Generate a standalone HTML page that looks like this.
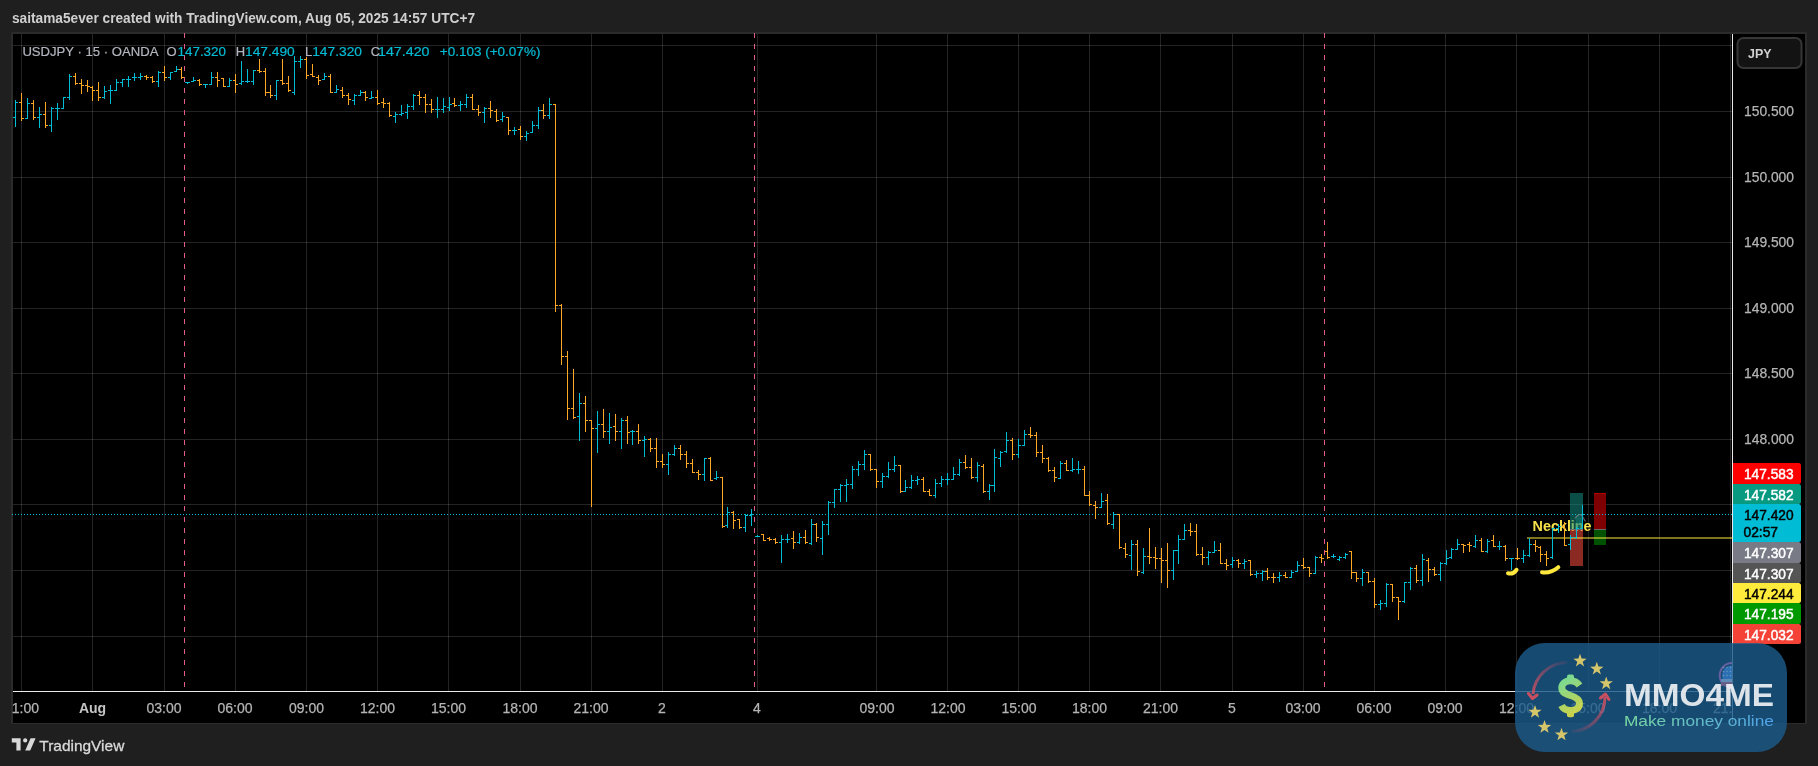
<!DOCTYPE html>
<html><head><meta charset="utf-8"><style>
html,body{margin:0;padding:0;background:#1f1f1f;width:1818px;height:766px;overflow:hidden}
svg{position:absolute;left:0;top:0;will-change:transform}
text{font-family:"Liberation Sans",sans-serif}
.ax{font-size:14px;fill:#b4b4b4;stroke:#b4b4b4;stroke-width:0.25px}
.axb{font-size:14px;fill:#c4c4c4;font-weight:bold}
.hdr{font-size:14px;fill:#d0d0d0;font-weight:bold}
.lab{font-size:14px;stroke-width:0.45px}
.lg{font-size:13px;stroke-width:0.2px}
.neck{font-size:14.5px;fill:#f7e24b;font-weight:bold}
.tvl{font-size:15px;fill:#d9d9d9;stroke:#d9d9d9;stroke-width:0.3px}
.dol{font-size:46px;font-weight:bold;fill:url(#gd)}
.mmo{font-size:31px;font-weight:bold;fill:#fff}
.mmt{font-size:15.5px;fill:url(#gt)}
.jpy{font-size:13.5px;fill:#d1d1d1;font-weight:bold}
</style></head><body>
<svg width="1818" height="766" viewBox="0 0 1818 766">
<text x="12" y="23" class="hdr" textLength="463" lengthAdjust="spacingAndGlyphs">saitama5ever created with TradingView.com, Aug 05, 2025 14:57 UTC+7</text>
<rect x="11" y="32" width="1796" height="692" fill="#2b2b2b"/>
<rect x="13" y="34" width="1792" height="689" fill="#000"/>
<rect x="13" y="45" width="1719" height="1" fill="rgba(255,255,255,0.14)"/>
<rect x="13" y="111" width="1719" height="1" fill="rgba(255,255,255,0.14)"/>
<rect x="13" y="177" width="1719" height="1" fill="rgba(255,255,255,0.14)"/>
<rect x="13" y="242" width="1719" height="1" fill="rgba(255,255,255,0.14)"/>
<rect x="13" y="308" width="1719" height="1" fill="rgba(255,255,255,0.14)"/>
<rect x="13" y="373" width="1719" height="1" fill="rgba(255,255,255,0.14)"/>
<rect x="13" y="439" width="1719" height="1" fill="rgba(255,255,255,0.14)"/>
<rect x="13" y="504" width="1719" height="1" fill="rgba(255,255,255,0.14)"/>
<rect x="13" y="570" width="1719" height="1" fill="rgba(255,255,255,0.14)"/>
<rect x="13" y="636" width="1719" height="1" fill="rgba(255,255,255,0.14)"/>
<rect x="21" y="34" width="1" height="657" fill="rgba(255,255,255,0.14)"/>
<rect x="92" y="34" width="1" height="657" fill="rgba(255,255,255,0.14)"/>
<rect x="164" y="34" width="1" height="657" fill="rgba(255,255,255,0.14)"/>
<rect x="235" y="34" width="1" height="657" fill="rgba(255,255,255,0.14)"/>
<rect x="306" y="34" width="1" height="657" fill="rgba(255,255,255,0.14)"/>
<rect x="377" y="34" width="1" height="657" fill="rgba(255,255,255,0.14)"/>
<rect x="448" y="34" width="1" height="657" fill="rgba(255,255,255,0.14)"/>
<rect x="520" y="34" width="1" height="657" fill="rgba(255,255,255,0.14)"/>
<rect x="591" y="34" width="1" height="657" fill="rgba(255,255,255,0.14)"/>
<rect x="662" y="34" width="1" height="657" fill="rgba(255,255,255,0.14)"/>
<rect x="757" y="34" width="1" height="657" fill="rgba(255,255,255,0.14)"/>
<rect x="876" y="34" width="1" height="657" fill="rgba(255,255,255,0.14)"/>
<rect x="947" y="34" width="1" height="657" fill="rgba(255,255,255,0.14)"/>
<rect x="1018" y="34" width="1" height="657" fill="rgba(255,255,255,0.14)"/>
<rect x="1089" y="34" width="1" height="657" fill="rgba(255,255,255,0.14)"/>
<rect x="1160" y="34" width="1" height="657" fill="rgba(255,255,255,0.14)"/>
<rect x="1232" y="34" width="1" height="657" fill="rgba(255,255,255,0.14)"/>
<rect x="1303" y="34" width="1" height="657" fill="rgba(255,255,255,0.14)"/>
<rect x="1374" y="34" width="1" height="657" fill="rgba(255,255,255,0.14)"/>
<rect x="1445" y="34" width="1" height="657" fill="rgba(255,255,255,0.14)"/>
<rect x="1516" y="34" width="1" height="657" fill="rgba(255,255,255,0.14)"/>
<rect x="1588" y="34" width="1" height="657" fill="rgba(255,255,255,0.14)"/>
<rect x="1659" y="34" width="1" height="657" fill="rgba(255,255,255,0.14)"/>
<rect x="1730" y="34" width="1" height="657" fill="rgba(255,255,255,0.14)"/>
<line x1="184.5" y1="33" x2="184.5" y2="691" stroke="#e65a8c" stroke-width="1" stroke-dasharray="5 6"/>
<line x1="754.5" y1="33" x2="754.5" y2="691" stroke="#e65a8c" stroke-width="1" stroke-dasharray="5 6"/>
<line x1="1324.5" y1="33" x2="1324.5" y2="691" stroke="#e65a8c" stroke-width="1" stroke-dasharray="5 6"/>
<text x="1532.6" y="531" class="neck" textLength="59" lengthAdjust="spacingAndGlyphs">Neckline</text>
<rect x="1570" y="493" width="13" height="36.5" fill="rgb(21,145,134)" fill-opacity="0.53"/>
<rect x="1576" y="516.5" width="7" height="13" fill="rgb(21,145,134)" fill-opacity="0.35"/>
<rect x="1570" y="529.5" width="13" height="36.5" fill="rgb(255,76,64)" fill-opacity="0.545"/>
<rect x="1570" y="529" width="13" height="1" fill="#6a6a6a"/>
<rect x="1594" y="493" width="12" height="36.5" fill="#7f0000"/>
<rect x="1594" y="493" width="12" height="1" fill="#b00000"/>
<rect x="1594" y="529.5" width="12" height="15.5" fill="#005200"/>
<rect x="1594" y="529" width="12" height="1" fill="#6a6a6a"/>
<rect x="1527" y="537" width="205" height="2" fill="rgb(255,235,59)" fill-opacity="0.5"/>
<line x1="12" y1="514.5" x2="1732" y2="514.5" stroke="#00bcd4" stroke-width="1" stroke-dasharray="1 2"/>
<path d="M1508 573.3 Q1513.5 574.5 1516.5 569.8" stroke="#ffe83d" stroke-width="4" fill="none" stroke-linecap="round"/>
<path d="M1542 572.3 Q1551 573.5 1558.3 567.2" stroke="#ffe83d" stroke-width="4" fill="none" stroke-linecap="round"/>
<path d="M1575 518.5 Q1578.5 513.5 1581.5 515 L1585.5 521.5" stroke="#8a8a8a" stroke-opacity="0.7" stroke-width="1.2" fill="none"/>
<path d="M15.5 100V127M13 117.5H15M16 102.5H18M27.5 98V119M25 118.5H27M28 103.5H30M39.5 107V128M37 117.5H39M40 114.5H42M51.5 107V132M49 125.5H51M52 108.5H54M57.5 103V120M55 108.5H57M58 108.5H60M63.5 97V109M61 108.5H63M64 97.5H66M69.5 74V100M67 97.5H69M70 76.5H72M104.5 86V99M102 97.5H104M105 91.5H107M110.5 85V104M108 90.5H110M111 90.5H113M116.5 79V91M114 90.5H116M117 82.5H119M122.5 79V87M120 82.5H122M123 79.5H125M128.5 76V87M126 79.5H128M129 79.5H131M134.5 73V81M132 77.5H134M135 77.5H137M140.5 73V80M138 77.5H140M141 76.5H143M158.5 71V87M156 81.5H158M159 72.5H161M170.5 72V80M168 77.5H170M171 72.5H173M176.5 66V72M174 71.5H176M177 69.5H179M187.5 82V84M185 82.5H187M188 82.5H190M193.5 77V82M191 81.5H193M194 80.5H196M205.5 84V88M203 84.5H205M206 84.5H208M211.5 72V85M209 84.5H211M212 77.5H214M229.5 78V87M227 86.5H229M230 80.5H232M241.5 61V85M239 83.5H241M242 81.5H244M247.5 69V83M245 81.5H247M248 81.5H250M253.5 70V85M251 81.5H253M254 70.5H256M276.5 80V100M274 95.5H276M277 80.5H279M294.5 56V95M292 92.5H294M295 61.5H297M300.5 56V68M298 61.5H300M301 59.5H303M324.5 73V80M322 79.5H324M325 76.5H327M336.5 85V93M334 92.5H336M337 89.5H339M354.5 94V105M352 100.5H354M355 95.5H357M360.5 90V96M358 95.5H360M361 92.5H363M371.5 91V99M369 98.5H371M372 97.5H374M395.5 112V123M393 116.5H395M396 114.5H398M401.5 105V116M399 114.5H401M402 113.5H404M407.5 104V119M405 112.5H407M408 106.5H410M413.5 94V110M411 106.5H413M414 95.5H416M437.5 97V118M435 109.5H437M438 109.5H440M443.5 98V113M441 109.5H443M444 106.5H446M449.5 97V111M447 107.5H449M450 104.5H452M460.5 101V111M458 105.5H460M461 104.5H463M466.5 94V108M464 104.5H466M467 97.5H469M484.5 107V123M482 112.5H484M485 108.5H487M502.5 112V122M500 119.5H502M503 116.5H505M514.5 127V135M512 130.5H514M515 130.5H517M526.5 131V141M524 136.5H526M527 133.5H529M532.5 121V133M530 132.5H532M533 125.5H535M538.5 107V129M536 125.5H538M539 110.5H541M549.5 98V119M547 115.5H549M550 104.5H552M579.5 393V441M577 416.5H579M580 403.5H582M597.5 411V453M595 428.5H597M598 424.5H600M609.5 413V444M607 431.5H609M610 427.5H612M621.5 418V449M619 431.5H621M622 420.5H624M632.5 430V445M630 431.5H632M633 431.5H635M644.5 436V457M642 440.5H644M645 439.5H647M668.5 452V475M666 464.5H668M669 454.5H671M674.5 445V456M672 454.5H674M675 448.5H677M704.5 458V481M702 474.5H704M705 458.5H707M716.5 471V480M714 478.5H716M717 477.5H719M727.5 507V528M725 525.5H727M728 512.5H730M745.5 514V532M743 527.5H745M746 515.5H748M751.5 509V526M749 515.5H751M752 514.5H754M757.5 535V537M755 536.5H757M758 536.5H760M781.5 535V563M779 542.5H781M782 539.5H784M787.5 534V543M785 539.5H787M788 539.5H790M799.5 533V544M797 542.5H799M800 537.5H802M811.5 519V545M809 543.5H811M812 524.5H814M822.5 521V555M820 538.5H822M823 524.5H825M828.5 501V535M826 524.5H828M829 502.5H831M834.5 489V508M832 502.5H834M835 489.5H837M840.5 484V502M838 489.5H840M841 485.5H843M846.5 479V502M844 485.5H846M847 484.5H849M852.5 466V489M850 484.5H852M853 469.5H855M858.5 461V476M856 469.5H858M859 464.5H861M864.5 450V470M862 464.5H864M865 454.5H867M882.5 473V488M880 481.5H882M883 476.5H885M888.5 462V478M886 476.5H888M889 469.5H891M894.5 456V472M892 469.5H894M895 465.5H897M905.5 480V492M903 491.5H905M906 487.5H908M911.5 475V489M909 487.5H911M912 480.5H914M917.5 476V485M915 480.5H917M918 479.5H920M935.5 479V498M933 495.5H935M936 483.5H938M941.5 476V487M939 483.5H941M942 479.5H944M947.5 473V485M945 479.5H947M948 479.5H950M953.5 467V480M951 479.5H953M954 474.5H956M959.5 459V476M957 474.5H959M960 462.5H962M977.5 462V482M975 477.5H977M978 465.5H980M989.5 484V500M987 491.5H989M990 485.5H992M994.5 449V492M992 485.5H994M995 457.5H997M1000.5 451V467M998 458.5H1000M1001 452.5H1003M1006.5 432V453M1004 451.5H1006M1007 440.5H1009M1018.5 439V458M1016 454.5H1018M1019 445.5H1021M1024.5 430V446M1022 445.5H1024M1025 434.5H1027M1060.5 461V479M1058 478.5H1060M1061 463.5H1063M1072.5 458V472M1070 470.5H1072M1073 469.5H1075M1078.5 461V474M1076 469.5H1078M1079 469.5H1081M1101.5 493V508M1099 507.5H1101M1102 501.5H1104M1113.5 512V529M1111 524.5H1113M1114 514.5H1116M1131.5 540V570M1129 555.5H1131M1132 544.5H1134M1143.5 548V574M1141 572.5H1143M1144 556.5H1146M1173.5 550V580M1171 570.5H1173M1174 550.5H1176M1178.5 535V564M1176 550.5H1178M1179 539.5H1181M1184.5 524V540M1182 539.5H1184M1185 530.5H1187M1208.5 551V565M1206 557.5H1208M1209 552.5H1211M1214.5 541V553M1212 552.5H1214M1215 550.5H1217M1232.5 557V568M1230 564.5H1232M1233 560.5H1235M1244.5 559V569M1242 563.5H1244M1245 561.5H1247M1256.5 571V578M1254 574.5H1256M1257 573.5H1259M1262.5 570V581M1260 573.5H1262M1263 571.5H1265M1279.5 572V582M1277 577.5H1279M1280 575.5H1282M1291.5 570V578M1289 577.5H1291M1292 572.5H1294M1297.5 561V572M1295 571.5H1297M1298 565.5H1300M1315.5 556V574M1313 573.5H1315M1316 557.5H1318M1333.5 554V558M1331 556.5H1333M1334 556.5H1336M1339.5 556V561M1337 559.5H1339M1340 557.5H1342M1345.5 553V559M1343 557.5H1345M1346 554.5H1348M1362.5 569V586M1360 578.5H1362M1363 572.5H1365M1380.5 600V610M1378 604.5H1380M1381 603.5H1383M1386.5 583V607M1384 603.5H1386M1387 584.5H1389M1404.5 582V603M1402 601.5H1404M1405 582.5H1407M1410.5 567V590M1408 582.5H1410M1411 568.5H1413M1422.5 554V586M1420 580.5H1422M1423 559.5H1425M1440.5 562V581M1438 574.5H1440M1441 563.5H1443M1446.5 550V565M1444 563.5H1446M1447 558.5H1449M1451.5 548V559M1449 557.5H1451M1452 549.5H1454M1457.5 539V550M1455 549.5H1457M1458 544.5H1460M1475.5 535V548M1473 546.5H1475M1476 540.5H1478M1487.5 539V553M1485 551.5H1487M1488 541.5H1490M1499.5 541V550M1497 546.5H1499M1500 546.5H1502M1511.5 558V570M1509 558.5H1511M1512 558.5H1514M1523.5 550V563M1521 558.5H1523M1524 555.5H1526M1529.5 538V557M1527 555.5H1529M1530 544.5H1532M1552.5 528V559M1550 557.5H1552M1553 528.5H1555M1558.5 524V533M1556 528.5H1558M1559 526.5H1561M1570.5 535V550M1568 544.5H1570M1571 537.5H1573M1576.5 527V539M1574 537.5H1576M1577 528.5H1579M1582.5 505V529M1580 528.5H1582M1583 514.5H1585" stroke="#00bcd4" stroke-width="1" fill="none" shape-rendering="crispEdges"/>
<path d="M21.5 93V121M19 102.5H21M22 118.5H24M33.5 100V120M31 103.5H33M34 117.5H36M45.5 102V128M43 114.5H45M46 125.5H48M75.5 73V85M73 76.5H75M76 83.5H78M81.5 79V94M79 83.5H81M82 85.5H84M87.5 80V92M85 85.5H87M88 86.5H90M92.5 86V101M90 87.5H92M93 90.5H95M98.5 82V101M96 90.5H98M99 97.5H101M146.5 75V80M144 76.5H146M147 77.5H149M152.5 76V83M150 77.5H152M153 81.5H155M164.5 66V81M162 72.5H164M165 77.5H167M181.5 67V79M179 69.5H181M182 77.5H184M199.5 79V86M197 80.5H199M200 84.5H202M217.5 72V87M215 77.5H217M218 80.5H220M223.5 78V87M221 78.5H223M224 86.5H226M235.5 74V93M233 80.5H235M236 84.5H238M259.5 59V73M257 70.5H259M260 71.5H262M265.5 68V96M263 71.5H265M266 92.5H268M270.5 85V98M268 92.5H270M271 95.5H273M282.5 59V85M280 80.5H282M283 83.5H285M288.5 76V92M286 83.5H288M289 90.5H291M306.5 57V79M304 59.5H306M307 75.5H309M312.5 64V77M310 74.5H312M313 76.5H315M318.5 75V85M316 77.5H318M319 80.5H321M330.5 74V93M328 76.5H330M331 92.5H333M342.5 87V98M340 90.5H342M343 95.5H345M348.5 93V105M346 95.5H348M349 99.5H351M365.5 91V101M363 92.5H365M366 97.5H368M377.5 90V105M375 97.5H377M378 103.5H380M383.5 98V108M381 102.5H383M384 103.5H386M389.5 102V117M387 103.5H389M390 115.5H392M419.5 91V105M417 95.5H419M420 97.5H422M425.5 94V113M423 97.5H425M426 104.5H428M431.5 99V113M429 104.5H431M432 109.5H434M454.5 98V107M452 103.5H454M455 105.5H457M472.5 94V110M470 97.5H472M473 109.5H475M478.5 105V116M476 109.5H478M479 112.5H481M490.5 101V118M488 108.5H490M491 110.5H493M496.5 109V122M494 111.5H496M497 120.5H499M508.5 117V135M506 117.5H508M509 130.5H511M520.5 126V140M518 129.5H520M521 136.5H523M543.5 104V119M541 110.5H543M544 115.5H546M555.5 104V312M553 104.5H555M556 305.5H558M561.5 304V365M559 305.5H561M562 356.5H564M567.5 351V420M565 356.5H567M568 408.5H570M573.5 369V419M571 408.5H573M574 417.5H576M585.5 396V432M583 403.5H585M586 420.5H588M591.5 420V507M589 420.5H591M592 428.5H594M603.5 409V438M601 424.5H603M604 431.5H606M615.5 414V441M613 426.5H615M616 431.5H618M627.5 416V444M625 420.5H627M628 432.5H630M638.5 424V444M636 431.5H638M639 440.5H641M650.5 438V452M648 439.5H650M651 448.5H653M656.5 438V468M654 448.5H656M657 461.5H659M662.5 454V468M660 461.5H662M663 464.5H665M680.5 445V460M678 448.5H680M681 454.5H683M686.5 451V468M684 454.5H686M687 463.5H689M692.5 459V473M690 463.5H692M693 472.5H695M698.5 470V480M696 472.5H698M699 474.5H701M710.5 457V481M708 458.5H710M711 480.5H713M722.5 477V528M720 477.5H722M723 526.5H725M733.5 511V529M731 512.5H733M734 520.5H736M739.5 519V529M737 519.5H739M740 527.5H742M763.5 534V541M761 534.5H763M764 540.5H766M769.5 537V541M767 538.5H769M770 539.5H772M775.5 538V544M773 539.5H775M776 542.5H778M793.5 531V549M791 538.5H793M794 542.5H796M805.5 530V544M803 537.5H805M806 542.5H808M816.5 523V542M814 524.5H816M817 537.5H819M870.5 454V471M868 454.5H870M871 469.5H873M876.5 469V488M874 469.5H876M877 481.5H879M900.5 465V493M898 465.5H900M901 491.5H903M923.5 477V492M921 479.5H923M924 491.5H926M929.5 489V496M927 491.5H929M930 495.5H932M965.5 455V469M963 462.5H965M966 467.5H968M971.5 458V479M969 467.5H971M972 477.5H974M983.5 464V493M981 466.5H983M984 491.5H986M1012.5 438V460M1010 440.5H1012M1013 454.5H1015M1030.5 427V438M1028 434.5H1030M1031 435.5H1033M1036.5 432V457M1034 435.5H1036M1037 452.5H1039M1042.5 445V463M1040 452.5H1042M1043 458.5H1045M1048.5 457V472M1046 458.5H1048M1049 470.5H1051M1054.5 467V482M1052 470.5H1054M1055 477.5H1057M1066.5 460V471M1064 463.5H1066M1067 470.5H1069M1084.5 466V496M1082 469.5H1084M1085 495.5H1087M1089.5 491V506M1087 495.5H1089M1090 504.5H1092M1095.5 501V519M1093 505.5H1095M1096 507.5H1098M1107.5 494V525M1105 500.5H1107M1108 523.5H1110M1119.5 514V549M1117 514.5H1119M1120 547.5H1122M1125.5 543V558M1123 548.5H1125M1126 554.5H1128M1137.5 540V576M1135 544.5H1137M1138 571.5H1140M1149.5 528V564M1147 556.5H1149M1150 557.5H1152M1155.5 547V569M1153 557.5H1155M1156 558.5H1158M1161.5 548V583M1159 558.5H1161M1162 560.5H1164M1167.5 543V588M1165 560.5H1167M1168 570.5H1170M1190.5 523V536M1188 530.5H1190M1191 531.5H1193M1196.5 524V556M1194 531.5H1196M1197 554.5H1199M1202.5 547V565M1200 554.5H1202M1203 557.5H1205M1220.5 543V564M1218 550.5H1220M1221 563.5H1223M1226.5 559V570M1224 563.5H1226M1227 565.5H1229M1238.5 559V568M1236 560.5H1238M1239 563.5H1241M1250.5 560V576M1248 560.5H1250M1251 574.5H1253M1267.5 568V580M1265 571.5H1267M1268 577.5H1270M1273.5 573V583M1271 577.5H1273M1274 577.5H1276M1285.5 572V578M1283 575.5H1285M1286 577.5H1288M1303.5 558V569M1301 565.5H1303M1304 567.5H1306M1309.5 567V577M1307 567.5H1309M1310 573.5H1312M1321.5 554V563M1319 557.5H1321M1322 558.5H1324M1327.5 542V559M1325 551.5H1327M1328 557.5H1330M1351.5 551V579M1349 551.5H1351M1352 572.5H1354M1356.5 572V582M1354 572.5H1356M1357 578.5H1359M1368.5 572V583M1366 572.5H1368M1369 581.5H1371M1374.5 578V608M1372 581.5H1374M1375 604.5H1377M1392.5 584V602M1390 584.5H1392M1393 597.5H1395M1398.5 597V620M1396 597.5H1398M1399 601.5H1401M1416.5 565V583M1414 568.5H1416M1417 580.5H1419M1428.5 558V582M1426 560.5H1428M1429 569.5H1431M1434.5 567V576M1432 569.5H1434M1435 574.5H1437M1463.5 544V553M1461 544.5H1463M1464 545.5H1466M1469.5 542V552M1467 544.5H1469M1470 545.5H1472M1481.5 538V552M1479 540.5H1481M1482 551.5H1484M1493.5 535V547M1491 540.5H1493M1494 546.5H1496M1505.5 545V561M1503 546.5H1505M1506 558.5H1508M1517.5 548V560M1515 558.5H1517M1518 558.5H1520M1535.5 540V552M1533 544.5H1535M1536 546.5H1538M1540.5 546V562M1538 547.5H1540M1541 554.5H1543M1546.5 551V566M1544 554.5H1546M1547 558.5H1549M1564.5 522V546M1562 526.5H1564M1565 545.5H1567" stroke="#ffa726" stroke-width="1" fill="none" shape-rendering="crispEdges"/>
<rect x="1732" y="34" width="1" height="689" fill="#eaeaea"/>
<rect x="13" y="691" width="1720" height="1" fill="#eaeaea"/>
<text x="1744" y="116" textLength="50" lengthAdjust="spacingAndGlyphs" class="ax">150.500</text>
<text x="1744" y="182" textLength="50" lengthAdjust="spacingAndGlyphs" class="ax">150.000</text>
<text x="1744" y="247" textLength="50" lengthAdjust="spacingAndGlyphs" class="ax">149.500</text>
<text x="1744" y="313" textLength="50" lengthAdjust="spacingAndGlyphs" class="ax">149.000</text>
<text x="1744" y="378" textLength="50" lengthAdjust="spacingAndGlyphs" class="ax">148.500</text>
<text x="1744" y="444" textLength="50" lengthAdjust="spacingAndGlyphs" class="ax">148.000</text>
<clipPath id="tclip"><rect x="12" y="692" width="1720" height="31"/></clipPath><g clip-path="url(#tclip)">
<text x="21.5" y="713" text-anchor="middle" class="ax">01:00</text>
<text x="92.5" y="713" text-anchor="middle" class="axb">Aug</text>
<text x="164" y="713" text-anchor="middle" class="ax">03:00</text>
<text x="235" y="713" text-anchor="middle" class="ax">06:00</text>
<text x="306.5" y="713" text-anchor="middle" class="ax">09:00</text>
<text x="377.5" y="713" text-anchor="middle" class="ax">12:00</text>
<text x="448.5" y="713" text-anchor="middle" class="ax">15:00</text>
<text x="520" y="713" text-anchor="middle" class="ax">18:00</text>
<text x="591" y="713" text-anchor="middle" class="ax">21:00</text>
<text x="662" y="713" text-anchor="middle" class="ax">2</text>
<text x="757" y="713" text-anchor="middle" class="ax">4</text>
<text x="877" y="713" text-anchor="middle" class="ax">09:00</text>
<text x="948" y="713" text-anchor="middle" class="ax">12:00</text>
<text x="1019" y="713" text-anchor="middle" class="ax">15:00</text>
<text x="1089.5" y="713" text-anchor="middle" class="ax">18:00</text>
<text x="1160.5" y="713" text-anchor="middle" class="ax">21:00</text>
<text x="1232" y="713" text-anchor="middle" class="ax">5</text>
<text x="1303" y="713" text-anchor="middle" class="ax">03:00</text>
<text x="1374" y="713" text-anchor="middle" class="ax">06:00</text>
<text x="1445" y="713" text-anchor="middle" class="ax">09:00</text>
<text x="1516.5" y="713" text-anchor="middle" class="ax">12:00</text>
<text x="1588" y="713" text-anchor="middle" class="ax">15:00</text>
<text x="1659.5" y="713" text-anchor="middle" class="ax">18:00</text>
<text x="1730.5" y="713" text-anchor="middle" class="ax">21:00</text>
</g>
<path d="M1733 463H1798.5a2.5 2.5 0 0 1 2.5 2.5V481.5a2.5 2.5 0 0 1 -2.5 2.5H1733Z" fill="#ff0000"/>
<text x="1744" y="478.5" textLength="49.5" lengthAdjust="spacingAndGlyphs" class="lab" fill="#fff" stroke="#fff">147.583</text>
<path d="M1733 484H1798.5a2.5 2.5 0 0 1 2.5 2.5V501.5a2.5 2.5 0 0 1 -2.5 2.5H1733Z" fill="#089981"/>
<text x="1744" y="499.5" textLength="49.5" lengthAdjust="spacingAndGlyphs" class="lab" fill="#fff" stroke="#fff">147.582</text>
<path d="M1733 504H1798.5a2.5 2.5 0 0 1 2.5 2.5V539.5a2.5 2.5 0 0 1 -2.5 2.5H1733Z" fill="#00bcd4"/>
<path d="M1733 542H1798.5a2.5 2.5 0 0 1 2.5 2.5V560.5a2.5 2.5 0 0 1 -2.5 2.5H1733Z" fill="#787b86"/>
<text x="1744" y="557.5" textLength="49.5" lengthAdjust="spacingAndGlyphs" class="lab" fill="#fff" stroke="#fff">147.307</text>
<path d="M1733 563H1798.5a2.5 2.5 0 0 1 2.5 2.5V580.5a2.5 2.5 0 0 1 -2.5 2.5H1733Z" fill="#555555"/>
<text x="1744" y="578.5" textLength="49.5" lengthAdjust="spacingAndGlyphs" class="lab" fill="#fff" stroke="#fff">147.307</text>
<path d="M1733 583H1798.5a2.5 2.5 0 0 1 2.5 2.5V600.5a2.5 2.5 0 0 1 -2.5 2.5H1733Z" fill="#ffeb3b"/>
<text x="1744" y="598.5" textLength="49.5" lengthAdjust="spacingAndGlyphs" class="lab" fill="#000" stroke="#000">147.244</text>
<path d="M1733 603H1798.5a2.5 2.5 0 0 1 2.5 2.5V621.5a2.5 2.5 0 0 1 -2.5 2.5H1733Z" fill="#009900"/>
<text x="1744" y="618.5" textLength="49.5" lengthAdjust="spacingAndGlyphs" class="lab" fill="#fff" stroke="#fff">147.195</text>
<path d="M1733 624H1798.5a2.5 2.5 0 0 1 2.5 2.5V641.5a2.5 2.5 0 0 1 -2.5 2.5H1733Z" fill="#f44336"/>
<text x="1744" y="639.5" textLength="49.5" lengthAdjust="spacingAndGlyphs" class="lab" fill="#fff" stroke="#fff">147.032</text>
<text x="1744" y="520" textLength="49.5" lengthAdjust="spacingAndGlyphs" class="lab" fill="#000" stroke="#000">147.420</text>
<text x="1743.5" y="536.7" textLength="34.5" lengthAdjust="spacingAndGlyphs" class="lab" fill="#000" stroke="#000">02:57</text>
<rect x="1737.5" y="38" width="64" height="30" rx="6" fill="#131313" stroke="#363636" stroke-width="2"/>
<text x="1748" y="58" class="jpy" textLength="23.5" lengthAdjust="spacingAndGlyphs">JPY</text>
<text x="22.4" y="55.5" class="lg" fill="#b2b5be" stroke="#b2b5be" textLength="136" lengthAdjust="spacingAndGlyphs">USDJPY · 15 · OANDA</text>
<text x="166.5" y="55.5" class="lg" fill="#b2b5be" stroke="#b2b5be">O</text>
<text x="177.5" y="55.5" class="lg" fill="#00bcd4" stroke="#00bcd4" textLength="48.5" lengthAdjust="spacingAndGlyphs">147.320</text>
<text x="235.8" y="55.5" class="lg" fill="#b2b5be" stroke="#b2b5be">H</text>
<text x="245" y="55.5" class="lg" fill="#00bcd4" stroke="#00bcd4" textLength="49.7" lengthAdjust="spacingAndGlyphs">147.490</text>
<text x="305" y="55.5" class="lg" fill="#b2b5be" stroke="#b2b5be">L</text>
<text x="312.2" y="55.5" class="lg" fill="#00bcd4" stroke="#00bcd4" textLength="49.8" lengthAdjust="spacingAndGlyphs">147.320</text>
<text x="370.8" y="55.5" class="lg" fill="#b2b5be" stroke="#b2b5be">C</text>
<text x="378" y="55.5" class="lg" fill="#00bcd4" stroke="#00bcd4" textLength="51.5" lengthAdjust="spacingAndGlyphs">147.420</text>
<text x="439.8" y="55.5" class="lg" fill="#00bcd4" stroke="#00bcd4" textLength="100.6" lengthAdjust="spacingAndGlyphs">+0.103 (+0.07%)</text>
<g fill="#d9d9d9"><path d="M11.8 738.2H20.6V750.4H16.4V742.4H11.8Z"/><circle cx="25.2" cy="740.4" r="2.1"/><path d="M30.6 738.2H35.6L30.2 750.4H25.2Z"/></g>
<text x="39.3" y="750.9" class="tvl" textLength="85" lengthAdjust="spacingAndGlyphs">TradingView</text>
<defs>
<linearGradient id="gd" x1="0" y1="0" x2="1" y2="1"><stop offset="0" stop-color="#4fd08f"/><stop offset="1" stop-color="#d9c81e"/></linearGradient>
<linearGradient id="gd2" gradientUnits="userSpaceOnUse" x1="1560" y1="678" x2="1582" y2="714"><stop offset="0" stop-color="#84f4a0"/><stop offset="1" stop-color="#f4e83a"/></linearGradient>
<linearGradient id="gt" x1="0" y1="0" x2="1" y2="0"><stop offset="0" stop-color="#8af0a8"/><stop offset="1" stop-color="#58b0ff"/></linearGradient>
<linearGradient id="ga1" gradientUnits="userSpaceOnUse" x1="1568" y1="662" x2="1532" y2="700"><stop offset="0" stop-color="#e0506a" stop-opacity="0.1"/><stop offset="1" stop-color="#e8505c"/></linearGradient>
<linearGradient id="ga2" gradientUnits="userSpaceOnUse" x1="1572" y1="732" x2="1606" y2="694"><stop offset="0" stop-color="#e0506a" stop-opacity="0.1"/><stop offset="1" stop-color="#e8505c"/></linearGradient>
<symbol id="st" viewBox="-1 -1 2 2"><path d="M0 -1L0.235 -0.324L0.951 -0.309L0.38 0.124L0.588 0.809L0 0.4L-0.588 0.809L-0.38 0.124L-0.951 -0.309L-0.235 -0.324Z"/></symbol>
</defs>
<rect x="1515" y="643" width="272" height="109" rx="30" fill="rgb(28,90,138)" fill-opacity="0.82"/>
<clipPath id="fclip"><rect x="1700" y="650" width="32" height="41"/></clipPath>
<g clip-path="url(#fclip)" opacity="0.6">
<circle cx="1732" cy="675.4" r="12.3" fill="none" stroke="#9a6fc4" stroke-width="2"/>
<circle cx="1732" cy="675.4" r="10" fill="#3b8be0"/>
<rect x="1721" y="679" width="12" height="3" fill="#8fb8e6"/>
<rect x="1721" y="682" width="12" height="4" fill="#9b6f9a"/>
<circle cx="1723.5" cy="667.5" r="0.8" fill="#9cc4f0"/>
<circle cx="1727" cy="667.5" r="0.8" fill="#9cc4f0"/>
<circle cx="1730.5" cy="667.5" r="0.8" fill="#9cc4f0"/>
<circle cx="1723.5" cy="671.5" r="0.8" fill="#9cc4f0"/>
<circle cx="1727" cy="671.5" r="0.8" fill="#9cc4f0"/>
<circle cx="1730.5" cy="671.5" r="0.8" fill="#9cc4f0"/>
<circle cx="1723.5" cy="675.5" r="0.8" fill="#9cc4f0"/>
<circle cx="1727" cy="675.5" r="0.8" fill="#9cc4f0"/>
<circle cx="1730.5" cy="675.5" r="0.8" fill="#9cc4f0"/>
</g>
<g opacity="0.85">
<path d="M1567 662.5 A34.5 34.5 0 0 0 1533 694" stroke="url(#ga1)" stroke-width="3" fill="none"/>
<path d="M1528.5 693.5 L1532.5 698.5 L1537 695" stroke="#e8505c" stroke-width="3" fill="none" stroke-linejoin="round" stroke-linecap="round"/>
<path d="M1572 731.5 A34.5 34.5 0 0 0 1605 697" stroke="url(#ga2)" stroke-width="3" fill="none"/>
<path d="M1600.5 698 L1605.5 694 L1609 699.5" stroke="#e8505c" stroke-width="3" fill="none" stroke-linejoin="round" stroke-linecap="round"/>
<use href="#st" x="1573" y="653.8" width="14" height="14" fill="#f8dc6a"/>
<use href="#st" x="1589.8" y="661.8" width="14" height="14" fill="#f8dc6a"/>
<use href="#st" x="1599.2" y="676.5" width="14" height="14" fill="#f8dc6a"/>
<use href="#st" x="1528" y="705" width="14" height="14" fill="#f8dc6a"/>
<use href="#st" x="1537.5" y="720.1" width="14" height="14" fill="#f8dc6a"/>
<use href="#st" x="1554.5" y="727.7" width="14" height="14" fill="#f8dc6a"/>
<path d="M1579.5 685.5C1577 682 1574 680.8 1570.5 680.8C1565 680.8 1561.8 684 1561.8 688C1561.8 692.5 1566 694 1570.5 695.5C1575.5 697 1579.5 699 1579.5 703.5C1579.5 708 1575.5 710.5 1570.5 710.5C1566.5 710.5 1563 708.5 1561.5 705.5" stroke="url(#gd2)" stroke-width="7" fill="none"/>
<rect x="1567" y="674.4" width="7" height="8" rx="2" fill="url(#gd2)"/>
<rect x="1567" y="709" width="7" height="8.3" rx="2" fill="url(#gd2)"/>
<text x="1624" y="705.8" class="mmo" textLength="150" lengthAdjust="spacingAndGlyphs">MMO4ME</text>
<text x="1623.9" y="725.5" class="mmt" textLength="150" lengthAdjust="spacingAndGlyphs">Make money online</text>
</g>
</svg>
</body></html>
